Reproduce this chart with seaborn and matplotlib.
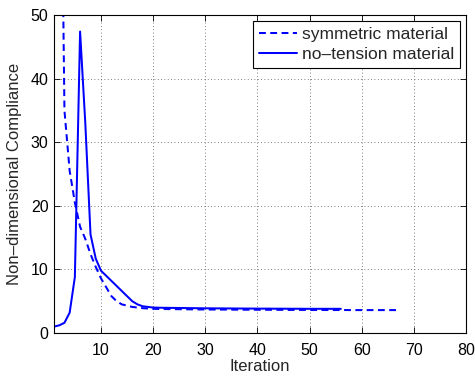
import numpy as np
import pandas as pd
import matplotlib
matplotlib.use("Agg")
import matplotlib.pyplot as plt
import seaborn as sns

# symmetric material (dashed)
sym_iter = list(range(1, 68))
sym_vals = [300, 105, 35, 25.5, 20.5, 16.7, 14.8, 12.4, 10.4, 8.6,
            7.2, 5.8, 5.0, 4.5, 4.3, 4.1, 4.0, 3.9, 3.85, 3.8] + \
           [3.78, 3.77, 3.76, 3.75, 3.74, 3.73, 3.72, 3.71, 3.70, 3.70,
            3.69, 3.69, 3.68, 3.68, 3.67, 3.67, 3.66, 3.66, 3.66, 3.65,
            3.65, 3.65, 3.64, 3.64, 3.64, 3.63, 3.63, 3.63, 3.63, 3.62,
            3.62, 3.62, 3.62, 3.61, 3.61, 3.61, 3.61, 3.60, 3.60, 3.60,
            3.60, 3.60, 3.60, 3.60, 3.60, 3.60, 3.60]
# no-tension material (solid)
nt_iter = list(range(1, 57))
nt_vals = [1.0, 1.2, 1.6, 3.2, 8.8, 47.4, 33.0, 15.5, 11.7, 9.8,
           9.0, 8.2, 7.4, 6.6, 5.8, 5.0, 4.5, 4.2, 4.1, 4.0] + \
          [3.98, 3.96, 3.95, 3.94, 3.93, 3.92, 3.91, 3.90, 3.89, 3.88,
           3.88, 3.87, 3.87, 3.86, 3.86, 3.85, 3.85, 3.84, 3.84, 3.83,
           3.83, 3.83, 3.82, 3.82, 3.82, 3.81, 3.81, 3.81, 3.80, 3.80,
           3.80, 3.80, 3.80, 3.80, 3.80, 3.80]

labels = ["symmetric material", "no\u2013tension material"]

df = pd.concat([
    pd.DataFrame({"Iteration": sym_iter, "C": sym_vals, "series": labels[0]}),
    pd.DataFrame({"Iteration": nt_iter, "C": nt_vals, "series": labels[1]}),
])

sns.set_style("ticks")
plt.rcParams["font.family"] = ["Liberation Sans", "DejaVu Sans"]
plt.rcParams["font.size"] = 12

fig = plt.figure(figsize=(4.75, 3.76), dpi=100)
ax = fig.add_axes([0.1137, 0.1144, 0.8674, 0.8457])

sns.lineplot(data=df, x="Iteration", y="C", hue="series", style="series",
             hue_order=labels, style_order=labels,
             palette=["#0000ff", "#0000ff"],
             dashes={labels[0]: (3.4, 2.2), labels[1]: ""},
             linewidth=1.45, ax=ax, legend=True)

ax.set_xlim(1, 80)
ax.set_ylim(0, 50)
ax.set_xticks([10, 20, 30, 40, 50, 60, 70, 80])
ax.set_yticks([0, 10, 20, 30, 40, 50])
ax.grid(True, linestyle=(0, (1, 3)), color="#555555", linewidth=0.6)
ax.tick_params(direction="in", top=True, right=True, length=4, width=0.6,
               labelsize=11.5, colors="black")
ax.tick_params(axis="x", pad=7)
ax.tick_params(axis="y", pad=4)
for s in ax.spines.values():
    s.set_visible(True)
    s.set_linewidth(0.8)
    s.set_color("black")
ax.set_xlabel("Iteration", fontsize=12, labelpad=1)
ax.set_ylabel("Non\u2013dimensional Compliance", fontsize=12, labelpad=6)

leg = ax.legend(loc="upper right", frameon=True, fancybox=False,
                edgecolor="black", framealpha=1, fontsize=12.5,
                handlelength=2.15, handletextpad=0.3, borderpad=0.35,
                labelspacing=0.25, borderaxespad=0.34)
leg.get_frame().set_linewidth(0.8)

fig.savefig("out.png", dpi=100)
